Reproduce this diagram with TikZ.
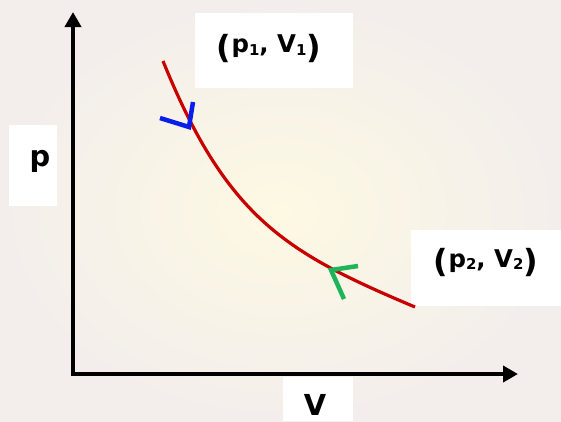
\documentclass[tikz,border=0pt]{standalone}
\usepackage{fontspec}
\setmainfont{DejaVu Sans}
\usetikzlibrary{arrows.meta}
\definecolor{curvered}{HTML}{C80000}
\definecolor{mkblue}{HTML}{0A1EEB}
\definecolor{mkgreen}{HTML}{1EB55A}
\definecolor{bgedge}{HTML}{F3EEEC}
\definecolor{bgmid}{HTML}{FDF9E2}
\newcommand\lsub[1]{\raisebox{-2.5bp}{\fontsize{15}{15}\selectfont #1}}
\newcommand\lpar[1]{\raisebox{-5bp}{\fontsize{32}{32}\selectfont #1}}
\tikzset{
  axis/.style={line width=4bp,-{Triangle[length=15bp,width=16bp]}},
  whitebox/.style={fill=white,draw=none},
  ptlabel/.style={font=\bfseries\fontsize{24.5}{24.5}\selectfont,inner sep=0},
  axlabel/.style={font=\bfseries\fontsize{29}{29}\selectfont,inner sep=0},
  curve/.style={curvered,line width=3.2bp},
  marker/.style={line width=4.5bp},
}
\begin{document}
\begin{tikzpicture}[x=1bp,y=-1bp]
\useasboundingbox (0,0) rectangle (561,421);
\shade[inner color=bgmid,outer color=bgedge] (0,0) rectangle (561,421);
% white boxes
\fill[whitebox] (195,13) rectangle (353,88);
\fill[whitebox] (411,230) rectangle (561,306);
\fill[whitebox] (9,125) rectangle (57,206);
\fill[whitebox] (283,377) rectangle (353,421);
% labels
\node[ptlabel] (l1) at (269,48) {\lpar{(}p\lsub{1}, V\lsub{1}\lpar{)}};
\node[ptlabel] (l2) at (486,262) {\lpar{(}p\lsub{2}, V\lsub{2}\lpar{)}};
\node[axlabel,anchor=base] (lp) at (40,166) {p};
\node[axlabel,anchor=base] (lv) at (315,415) {V};
% axes
\coordinate (o) at (73,374);
\coordinate (ytip) at (73,12);
\coordinate (xtip) at (518,374);
\draw[axis] ([yshift=2bp]o) -- (ytip);
\draw[axis] ([xshift=-2bp]o) -- (xtip);
% curve
\coordinate (c1) at (163,61);
\coordinate (c2) at (415,307);
\draw[curve] (c1) .. controls (227,219) and (287,253) .. (c2);
% markers
\coordinate (mb) at (189,127);
\coordinate (mg) at (331,270);
\draw[marker,mkblue] (193,102) -- (mb) -- (160,118);
\draw[marker,mkgreen] (358,266) -- (mg) -- (344,299);
\end{tikzpicture}
\end{document}
